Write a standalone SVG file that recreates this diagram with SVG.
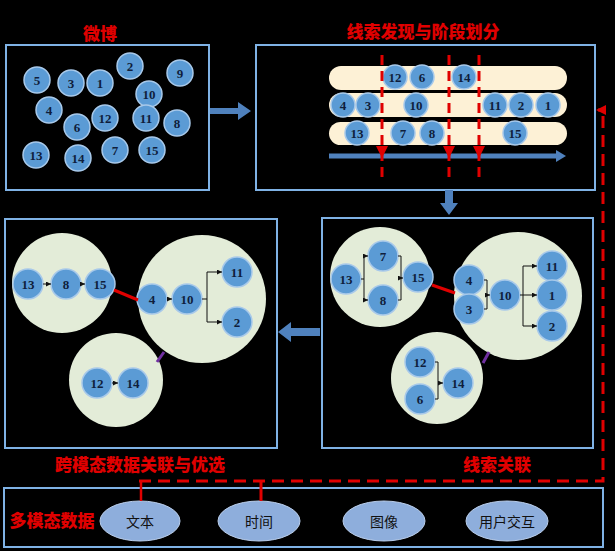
<svg xmlns="http://www.w3.org/2000/svg" width="615" height="551" viewBox="0 0 615 551">
<style>
.bg{fill:#000}
.panel{fill:#000;stroke:#7fb2e5;stroke-width:2}
.title{font-family:"Noto Sans CJK SC","Noto Sans",sans-serif;font-weight:900;font-size:17px;fill:#e00000;text-anchor:middle;dominant-baseline:central}
.n circle{fill:#5b9bd5;stroke:#a8c9ea;stroke-width:1.5}
.n text{font-family:"Liberation Serif",serif;font-weight:bold;font-size:13px;fill:#0f1e3c;text-anchor:middle;dominant-baseline:central}
.pill{fill:#fdf1d6}
.big{fill:#e3ecd8}
.blk{fill:none;stroke:#111;stroke-width:1}
.ell{fill:#8eaedc;stroke:#b9cdea;stroke-width:1}
.et{font-family:"Noto Sans CJK SC",sans-serif;font-size:14px;fill:#111;text-anchor:middle;dominant-baseline:central}
.rdash{fill:none;stroke:#e00000;stroke-width:3;stroke-dasharray:10 6}
.barrow{fill:#4f81bd}
</style>
<defs>
<marker id="ah" markerWidth="5" markerHeight="5" refX="5" refY="2.5" orient="auto" markerUnits="userSpaceOnUse"><path d="M0,0 L5,2.5 L0,5 Z" fill="#111"/></marker>
<marker id="rah" markerWidth="10" markerHeight="10" refX="8" refY="5" orient="auto" markerUnits="userSpaceOnUse"><path d="M0,0 L10,5 L0,10 Z" fill="#e00000"/></marker>
<marker id="bah" markerWidth="10" markerHeight="12" refX="4" refY="6" orient="auto" markerUnits="userSpaceOnUse"><path d="M0,0 L10,6 L0,12 Z" fill="#4f81bd"/></marker>
</defs>
<rect class="bg" x="0" y="0" width="615" height="551"/>

<!-- Panel 1: Weibo -->
<g id="panel-weibo">
<text class="title" x="100" y="32">微博</text>
<rect class="panel" x="6" y="45" width="203" height="145"/>
<g id="w5" class="n"><circle cx="37" cy="80" r="13"/><text x="37" y="80">5</text></g>
<g id="w3" class="n"><circle cx="71" cy="83" r="13"/><text x="71" y="83">3</text></g>
<g id="w1" class="n"><circle cx="100" cy="83" r="13"/><text x="100" y="83">1</text></g>
<g id="w2" class="n"><circle cx="130" cy="66" r="13"/><text x="130" y="66">2</text></g>
<g id="w9" class="n"><circle cx="180" cy="73" r="13"/><text x="180" y="73">9</text></g>
<g id="w10" class="n"><circle cx="149" cy="94" r="13"/><text x="149" y="94">10</text></g>
<g id="w4" class="n"><circle cx="49" cy="110" r="13"/><text x="49" y="110">4</text></g>
<g id="w6" class="n"><circle cx="77" cy="127" r="13"/><text x="77" y="127">6</text></g>
<g id="w12" class="n"><circle cx="105" cy="118" r="13"/><text x="105" y="118">12</text></g>
<g id="w11" class="n"><circle cx="146" cy="118" r="13"/><text x="146" y="118">11</text></g>
<g id="w8" class="n"><circle cx="177" cy="123" r="13"/><text x="177" y="123">8</text></g>
<g id="w13" class="n"><circle cx="36" cy="155" r="13"/><text x="36" y="155">13</text></g>
<g id="w14" class="n"><circle cx="78" cy="158" r="13"/><text x="78" y="158">14</text></g>
<g id="w7" class="n"><circle cx="115" cy="150" r="13"/><text x="115" y="150">7</text></g>
<g id="w15" class="n"><circle cx="152" cy="150" r="13"/><text x="152" y="150">15</text></g>
</g>

<!-- Panel 2: clue discovery & stage division -->
<g id="panel-discovery">
<text class="title" x="423" y="30">线索发现与阶段划分</text>
<rect class="panel" x="256" y="45" width="339" height="145"/>
<rect class="pill" x="329" y="66" width="238" height="24" rx="12"/>
<rect class="pill" x="329" y="93" width="238" height="24" rx="12"/>
<rect class="pill" x="329" y="122" width="238" height="23" rx="11.5"/>
<line x1="329" y1="156" x2="560" y2="156" stroke="#4f81bd" stroke-width="5" marker-end="url(#bah)"/>
<g id="d12" class="n"><circle cx="395" cy="77" r="12"/><text x="395" y="77">12</text></g>
<g id="d6" class="n"><circle cx="422" cy="77" r="12"/><text x="422" y="77">6</text></g>
<g id="d14" class="n"><circle cx="464" cy="77" r="12"/><text x="464" y="77">14</text></g>
<g id="d4" class="n"><circle cx="343" cy="105" r="12"/><text x="343" y="105">4</text></g>
<g id="d3" class="n"><circle cx="368" cy="105" r="12"/><text x="368" y="105">3</text></g>
<g id="d10" class="n"><circle cx="416" cy="105" r="12"/><text x="416" y="105">10</text></g>
<g id="d11" class="n"><circle cx="495" cy="105" r="12"/><text x="495" y="105">11</text></g>
<g id="d2" class="n"><circle cx="521" cy="105" r="12"/><text x="521" y="105">2</text></g>
<g id="d1" class="n"><circle cx="548" cy="105" r="12"/><text x="548" y="105">1</text></g>
<g id="d13" class="n"><circle cx="357" cy="133" r="12"/><text x="357" y="133">13</text></g>
<g id="d7" class="n"><circle cx="403" cy="133" r="12"/><text x="403" y="133">7</text></g>
<g id="d8" class="n"><circle cx="432" cy="133" r="12"/><text x="432" y="133">8</text></g>
<g id="d15" class="n"><circle cx="515" cy="133" r="12"/><text x="515" y="133">15</text></g>
<line class="rdash" x1="382" y1="55" x2="382" y2="183"/>
<line class="rdash" x1="449" y1="55" x2="449" y2="183"/>
<line class="rdash" x1="479" y1="55" x2="479" y2="183"/>
<path d="M376,146 L388,146 L382,158 Z M443,146 L455,146 L449,158 Z M473,146 L485,146 L479,158 Z" fill="#e00000"/>
</g>

<!-- Panel 4: clue association -->
<g id="panel-association">
<rect class="panel" x="322" y="218" width="271" height="230"/>
<text class="title" x="497" y="463">线索关联</text>
<circle class="big" cx="380" cy="277" r="50"/>
<circle class="big" cx="518" cy="296" r="64"/>
<circle class="big" cx="437" cy="378" r="46"/>
<g id="a13" class="n"><circle cx="346" cy="279" r="15"/><text x="346" y="279">13</text></g>
<g id="a7" class="n"><circle cx="383" cy="256" r="15"/><text x="383" y="256">7</text></g>
<g id="a8" class="n"><circle cx="383" cy="300" r="15"/><text x="383" y="300">8</text></g>
<g id="a15" class="n"><circle cx="418" cy="277" r="15"/><text x="418" y="277">15</text></g>
<g id="a4" class="n"><circle cx="469" cy="280" r="15"/><text x="469" y="280">4</text></g>
<g id="a3" class="n"><circle cx="469" cy="309" r="15"/><text x="469" y="309">3</text></g>
<g id="a10" class="n"><circle cx="505" cy="295" r="15"/><text x="505" y="295">10</text></g>
<g id="a11" class="n"><circle cx="552" cy="266" r="15"/><text x="552" y="266">11</text></g>
<g id="a1" class="n"><circle cx="552" cy="295" r="15"/><text x="552" y="295">1</text></g>
<g id="a2" class="n"><circle cx="552" cy="326" r="15"/><text x="552" y="326">2</text></g>
<g id="a12" class="n"><circle cx="420" cy="362" r="15"/><text x="420" y="362">12</text></g>
<g id="a6" class="n"><circle cx="420" cy="399" r="15"/><text x="420" y="399">6</text></g>
<g id="a14" class="n"><circle cx="458" cy="383" r="15"/><text x="458" y="383">14</text></g>
</g>

<!-- Panel 3: cross-modal association & selection -->
<g id="panel-crossmodal">
<rect class="panel" x="5" y="219" width="272" height="229"/>
<text class="title" x="140" y="463">跨模态数据关联与优选</text>
<circle class="big" cx="62" cy="283" r="50"/>
<circle class="big" cx="202" cy="299" r="64"/>
<circle class="big" cx="116" cy="380" r="47"/>
<g id="c13" class="n"><circle cx="28" cy="284" r="15"/><text x="28" y="284">13</text></g>
<g id="c8" class="n"><circle cx="66" cy="284" r="15"/><text x="66" y="284">8</text></g>
<g id="c15" class="n"><circle cx="100" cy="284" r="15"/><text x="100" y="284">15</text></g>
<g id="c4" class="n"><circle cx="152" cy="299" r="15"/><text x="152" y="299">4</text></g>
<g id="c10" class="n"><circle cx="187" cy="299" r="15"/><text x="187" y="299">10</text></g>
<g id="c11" class="n"><circle cx="237" cy="272" r="15"/><text x="237" y="272">11</text></g>
<g id="c2" class="n"><circle cx="237" cy="322" r="15"/><text x="237" y="322">2</text></g>
<g id="c12" class="n"><circle cx="97" cy="383" r="15"/><text x="97" y="383">12</text></g>
<g id="c14" class="n"><circle cx="133" cy="383" r="15"/><text x="133" y="383">14</text></g>
</g>

<!-- Panel 5: multimodal data -->
<g id="panel-multimodal">
<rect class="panel" x="4" y="488" width="599" height="59"/>
<text class="title" x="52" y="519">多模态数据</text>
<g id="m-text"><ellipse class="ell" cx="140" cy="521" rx="40" ry="20"/><text class="et" x="140" y="521">文本</text></g>
<g id="m-time"><ellipse class="ell" cx="259" cy="521" rx="41" ry="20"/><text class="et" x="259" y="521">时间</text></g>
<g id="m-image"><ellipse class="ell" cx="384" cy="521" rx="41" ry="20"/><text class="et" x="384" y="521">图像</text></g>
<g id="m-user"><ellipse class="ell" cx="507" cy="521" rx="41" ry="20"/><text class="et" x="507" y="521">用户交互</text></g>
</g>

<!-- Connectors -->
<g id="connectors">
<!-- panel flow arrows -->
<path class="barrow" d="M210,108 H238 V102 L251,111 L238,120 V114 H210 Z"/>
<path class="barrow" d="M445,190 V203 H440 L449,215 L458,203 H453 V190 Z"/>
<path class="barrow" d="M320,328 H291 V322 L278,332 L291,342 V336 H320 Z"/>
<!-- panel 4 internal -->
<path class="blk" d="M361,279 H364 M364,256 V300 M398,256 H401 V300 H398 M484,280 H487 V309 H484 M520,295 H523 M523,266 V326 M435,362 H438 V399 H435"/>
<path class="blk" d="M364,256 H368" marker-end="url(#ah)"/>
<path class="blk" d="M364,300 H368" marker-end="url(#ah)"/>
<path class="blk" d="M398,278 H403" marker-end="url(#ah)"/>
<path class="blk" d="M485,295 H490" marker-end="url(#ah)"/>
<path class="blk" d="M523,266 H537" marker-end="url(#ah)"/>
<path class="blk" d="M523,295 H537" marker-end="url(#ah)"/>
<path class="blk" d="M523,326 H537" marker-end="url(#ah)"/>
<path class="blk" d="M438,383 H443" marker-end="url(#ah)"/>
<line x1="432" y1="285" x2="455" y2="293" stroke="#e00000" stroke-width="3"/>
<line x1="483" y1="363" x2="489" y2="352" stroke="#7030a0" stroke-width="3"/>
<!-- panel 3 internal -->
<path class="blk" d="M43,284 H51" marker-end="url(#ah)"/>
<path class="blk" d="M81,284 H85" marker-end="url(#ah)"/>
<path class="blk" d="M167,299 H172" marker-end="url(#ah)"/>
<path class="blk" d="M202,299 H207 M207,272 V322"/>
<path class="blk" d="M207,272 H222" marker-end="url(#ah)"/>
<path class="blk" d="M207,322 H222" marker-end="url(#ah)"/>
<path class="blk" d="M112,383 H118" marker-end="url(#ah)"/>
<line x1="114" y1="290" x2="138" y2="300" stroke="#e00000" stroke-width="3"/>
<line x1="157" y1="362" x2="164" y2="352" stroke="#7030a0" stroke-width="3"/>
<!-- feedback dashed loop -->
<line x1="141" y1="481" x2="141" y2="501" stroke="#e00000" stroke-width="2.5"/>
<line x1="261" y1="481" x2="261" y2="501" stroke="#e00000" stroke-width="3"/>
<path d="M139,481 H603 V110 H598" fill="none" stroke="#e00000" stroke-width="3" stroke-dasharray="12 7" marker-end="url(#rah)"/>
</g>
</svg>
